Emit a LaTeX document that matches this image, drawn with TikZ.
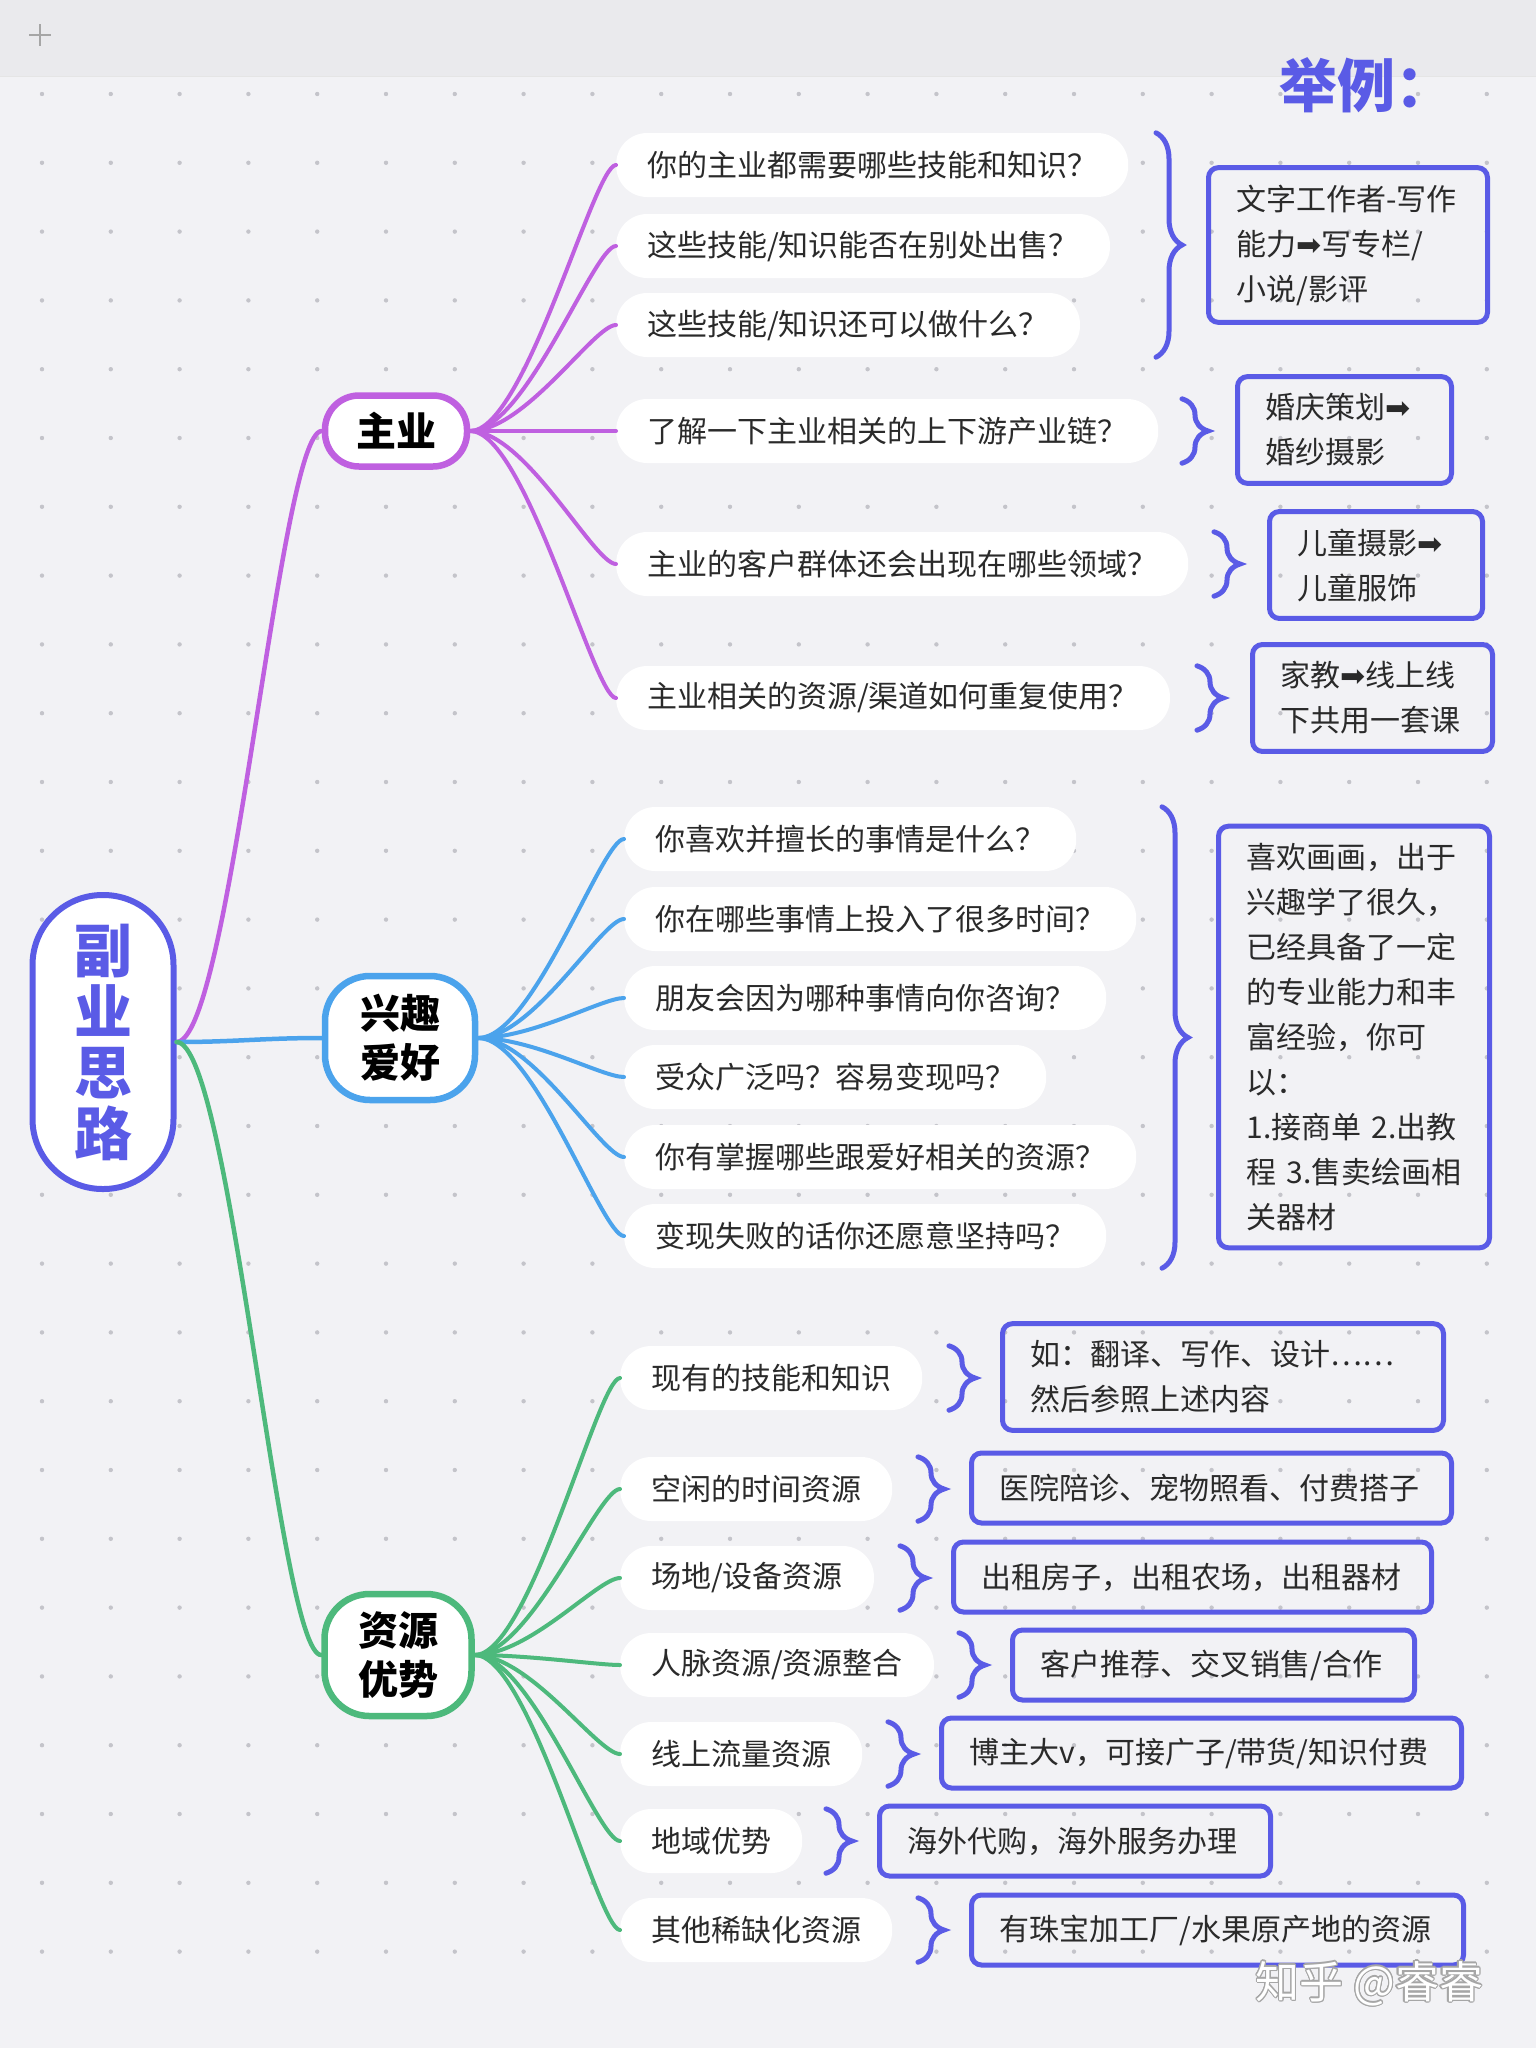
\documentclass[tikz,border=0pt]{standalone}
\usepackage{fontspec}
\setmainfont{Noto Sans CJK SC}
\newfontfamily\symfont{DejaVu Sans}
\usepackage{xcolor}
\usepackage{tikz}
\usepackage{contour}
\usetikzlibrary{positioning, calc, decorations.pathreplacing}

\definecolor{bgcol}{HTML}{F2F2F5}
\definecolor{topcol}{HTML}{EAEAED}
\definecolor{purplebr}{HTML}{BF60E0}
\definecolor{bluebr}{HTML}{4BA3EC}
\definecolor{greenbr}{HTML}{4DB97C}
\definecolor{indigo}{HTML}{5A5BE6}
\definecolor{txt}{HTML}{2A2A2A}
\definecolor{dotcol}{HTML}{C4C4CA}

\newcommand{\arr}{{\symfont ➡}}
\contourlength{1.2pt}

\begin{document}
\begin{tikzpicture}[x=1pt, y=-1pt,
	root/.style={draw=indigo, line width=6pt, fill=white, rounded corners=70pt, minimum width=141pt, minimum height=294pt, text=indigo, align=center, font=\fontsize{58}{61}\selectfont\bfseries},
	topic/.style={draw=#1, line width=6.5pt, fill=white, align=center, text=black, font=\fontsize{40}{49}\selectfont\bfseries},
	ques/.style={fill=white, rounded corners=31pt, minimum height=64pt, inner xsep=31pt, anchor=west, text=txt, font=\fontsize{30}{36}\selectfont},
	example/.style={draw=indigo, line width=5pt, rounded corners=10pt, anchor=west, text width=#1, align=left, inner xsep=28pt, inner ysep=17pt, minimum height=70pt, text=txt, font=\fontsize{30}{45}\selectfont},
	brc/.style={draw=indigo, line width=5pt, line cap=round, decorate, decoration={brace, amplitude=26pt}},
	link/.style={draw=#1, line width=4.5pt, line cap=round},
	sublink/.style={draw=#1, line width=4pt, line cap=round},
	griddot/.style={fill=dotcol}
	]

	% 背景与点阵
	\useasboundingbox (0,0) rectangle (1536,2048);
	\fill[bgcol] (0,0) rectangle (1536,2048);
	\fill[topcol] (0,0) rectangle (1536,76);
	\draw[gray!20, line width=1pt] (0,76) -- (1536,76);
	\draw[gray!70, line width=1.6pt] (29,35) -- (51,35) (40,24) -- (40,46);
	\foreach \i in {0,...,21}
		\foreach \j in {0,...,27}
			\fill[griddot] (42+68.8*\i, 94+68.8*\j) circle[radius=2.2pt];

	% 标题
	\node[anchor=west, text=indigo, font=\fontsize{58}{60}\selectfont\bfseries] (title) at (1276,85) {举例：};

	% 中心与三个主题
	\node[root] (fuye) at (103,1042) {副\\业\\思\\路};
	\node[topic=purplebr, rounded corners=34pt, minimum width=142pt, minimum height=71pt] (zhuye) at (396,431) {主业};
	\node[topic=bluebr, rounded corners=45pt, minimum width=150pt, minimum height=124pt] (xingqu) at (400,1038) {兴趣\\爱好};
	\node[topic=greenbr, rounded corners=45pt, minimum width=147pt, minimum height=122pt] (ziyuan) at (398,1655) {资源\\优势};

	% 主业：问题
	\node[ques] (zy1) at (616,165) {你的主业都需要哪些技能和知识？};
	\node[ques] (zy2) at (616,246) {这些技能/知识能否在别处出售？};
	\node[ques] (zy3) at (616,325) {这些技能/知识还可以做什么？};
	\node[ques] (zy4) at (616,431) {了解一下主业相关的上下游产业链？};
	\node[ques] (zy5) at (616,564) {主业的客户群体还会出现在哪些领域？};
	\node[ques] (zy6) at (616,698) {主业相关的资源/渠道如何重复使用？};

	% 兴趣爱好：问题
	\node[ques] (xq1) at (624,839) {你喜欢并擅长的事情是什么？};
	\node[ques] (xq2) at (624,919) {你在哪些事情上投入了很多时间？};
	\node[ques] (xq3) at (624,998) {朋友会因为哪种事情向你咨询？};
	\node[ques] (xq4) at (624,1077) {受众广泛吗？容易变现吗？};
	\node[ques] (xq5) at (624,1157) {你有掌握哪些跟爱好相关的资源？};
	\node[ques] (xq6) at (624,1236) {变现失败的话你还愿意坚持吗？};

	% 资源优势：问题
	\node[ques] (zr1) at (620,1378) {现有的技能和知识};
	\node[ques] (zr2) at (620,1489) {空闲的时间资源};
	\node[ques] (zr3) at (620,1578) {场地/设备资源};
	\node[ques] (zr4) at (620,1665) {人脉资源/资源整合};
	\node[ques] (zr5) at (620,1754) {线上流量资源};
	\node[ques] (zr6) at (620,1841) {地域优势};
	\node[ques] (zr7) at (620,1930) {其他稀缺化资源};

	% 举例框
	\node[example=223pt] (ex1) at (1206,245) {文字工作者-写作\\能力\arr 写专栏/\\小说/影评};
	\node[example=158pt] (ex2) at (1235,430) {婚庆策划\arr\\婚纱摄影};
	\node[example=157pt] (ex3) at (1267,565) {儿童摄影\arr\\儿童服饰};
	\node[example=184pt] (ex4) at (1250,698) {家教\arr 线上线\\下共用一套课};
	\node[example=215pt] (ex5) at (1216,1037) {喜欢画画，出于\\兴趣学了很久，\\已经具备了一定\\的专业能力和丰\\富经验，你可\\以：\\1.接商单 2.出教\\程 3.售卖绘画相\\关器材};
	\node[example=385pt] (ex6) at (1000,1377) {如：翻译、写作、设计……\\然后参照上述内容};
	\node[example=424pt] (ex7) at (969,1488) {医院陪诊、宠物照看、付费搭子};
	\node[example=422pt] (ex8) at (951,1577) {出租房子，出租农场，出租器材};
	\node[example=346pt] (ex9) at (1010,1665) {客户推荐、交叉销售/合作};
	\node[example=464pt] (ex10) at (939,1753) {博主大v，可接广子/带货/知识付费};
	\node[example=335pt] (ex11) at (877,1841) {海外代购，海外服务办理};
	\node[example=436pt] (ex12) at (969,1930) {有珠宝加工厂/水果原产地的资源};

	% 大括号
	\draw[brc] ($(ex1.west |- zy1.north)+(-50,0)$) -- ($(ex1.west |- zy3.south)+(-50,0)$);
	\draw[brc] ($(ex2.west |- zy4.north)+(-53,0)$) -- ($(ex2.west |- zy4.south)+(-53,0)$);
	\draw[brc] ($(ex3.west |- zy5.north)+(-53,0)$) -- ($(ex3.west |- zy5.south)+(-53,0)$);
	\draw[brc] ($(ex4.west |- zy6.north)+(-53,0)$) -- ($(ex4.west |- zy6.south)+(-53,0)$);
	\draw[brc] ($(ex5.west |- xq1.north)+(-54,0)$) -- ($(ex5.west |- xq6.south)+(-54,0)$);
	\foreach \i/\e in {1/6, 2/7, 3/8, 4/9, 5/10, 6/11, 7/12}
		\draw[brc] ($(ex\e.west |- zr\i.north)+(-51,0)$) -- ($(ex\e.west |- zr\i.south)+(-51,0)$);

	% 连线
	\draw[link=purplebr] (fuye.east) .. controls +(54,0) and +(-42,0) .. (zhuye.west);
	\draw[link=bluebr] (fuye.east) .. controls +(60,0) and +(-60,0) .. (xingqu.west);
	\draw[link=greenbr] (fuye.east) .. controls +(54,0) and +(-42,0) .. (ziyuan.west);
	\foreach \i in {1,...,6}
		\draw[sublink=purplebr] (zhuye.east) .. controls +(55,0) and +(-22,0) .. (zy\i.west);
	\foreach \i in {1,...,6}
		\draw[sublink=bluebr] (xingqu.east) .. controls +(55,0) and +(-22,0) .. (xq\i.west);
	\foreach \i in {1,...,7}
		\draw[sublink=greenbr] (ziyuan.east) .. controls +(55,0) and +(-22,0) .. (zr\i.west);

	% 水印
	\node[anchor=west, text=white, font=\fontsize{44}{46}\selectfont] (mark) at (1252,1984) {\contour{gray!70}{知乎 @睿睿}};

\end{tikzpicture}
\end{document}
